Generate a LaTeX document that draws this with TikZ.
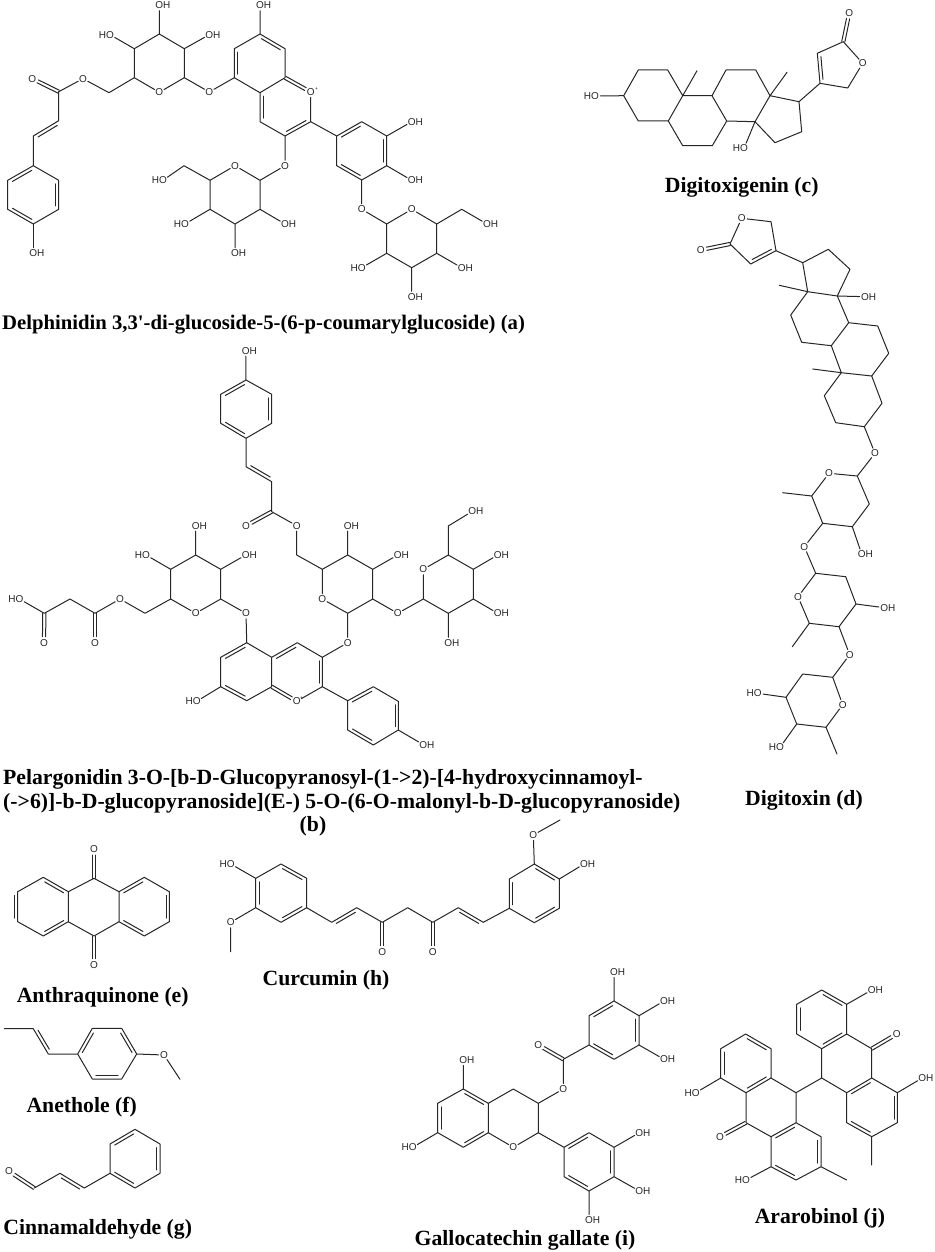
\documentclass[tikz,border=0pt]{standalone}
\usepackage{fontspec}
\setmainfont{Liberation Serif}[Ligatures=TeXOff]
\newfontfamily\atomfont{Liberation Sans}
\usetikzlibrary{calc}
\definecolor{ink}{gray}{0.15}
\tikzset{
  bond/.style={draw=ink,line width=1pt,line join=round,line cap=round},
  oat/.style={circle,minimum size=10.5pt,inner sep=0pt,draw=none},
  atomtxt/.style={inner sep=0pt,text=ink,font=\atomfont\fontsize{10}{10}\selectfont},
  chg/.style={inner sep=0pt,text=ink,font=\atomfont\fontsize{5}{5}\selectfont},
  title/.style={inner sep=0pt,text=black,font=\bfseries\fontsize{21.7}{23}\selectfont},
  titlea/.style={inner sep=0pt,text=black,font=\bfseries\fontsize{20.7}{22}\selectfont},
}
\newcommand\Vs[1]{\foreach \n/\x/\y in {#1}{\coordinate (\n) at (\x,\y);}}
\newcommand\Oat[3]{\node[oat](#1) at (#2,#3){}; \node[atomtxt](#1t) at (#2,#3){O};}
\newcommand\OH[3]{\node[oat](#1) at (#2,#3){}; \node[atomtxt](#1t) at (#2+3.6,#3){OH};}
\newcommand\HO[3]{\node[oat](#1) at (#2,#3){}; \node[atomtxt](#1t) at (#2-3.6,#3){HO};}
% inner line of a double bond, on the right-hand side going from #1 to #2
\newcommand\dbl[2]{\draw[bond] ($(#1)!0.12!(#2)!3.3pt!-90:(#2)$) -- ($(#2)!0.12!(#1)!3.3pt!90:(#1)$);}
% double bond C=O drawn as two parallel lines, from atom #1 to oxygen #2
\newcommand\dblO[2]{%
  \draw[bond] ($(#1)!1.6pt!90:(#2)$) -- ($(#2)!6pt!(#1)!1.6pt!-90:(#1)$);
  \draw[bond] ($(#1)!1.6pt!-90:(#2)$) -- ($(#2)!6pt!(#1)!1.6pt!90:(#1)$);}
\begin{document}
\begin{tikzpicture}[x=1pt,y=-1pt]
\useasboundingbox (0,0) rectangle (934,1252);

%% ---------- (a) Delphinidin glycoside
\Vs{a1/33.3/165.7,a2/58.7/180.3,a3/58.7/209.3,a4/33.3/224,a5/7.7/209.3,a6/7.7/180.3,
    a7/33.3/136,a8/58.7/120.7,a9/58.7/91.7,a10/109/92.7,
    s1/134.3/77.7,s2/134.3/48.7,s3/159.3/34,s4/184.3/48.7,s5/184.3/77.7,
    r1/234.3/77.7,r2/234.3/48.7,r3/260/34,r4/285/48.7,r5/285/77.7,r6/260/92.7,
    r7/310.7/121.7,r8/285/136,r9/260/121.7,
    t1/260/180.3,t2/210/180.3,t3/210/209.3,t4/235/224,t5/260/209.3,t6/184/165.7,
    b1/336.7/136,b2/361.7/121.7,b3/386.7/136,b4/386.7/165.7,b5/361.7/180,b6/336.7/165.7,
    u1/386.7/224,u2/436.7/224,u3/436.7/253.3,u4/411.7/267.7,u5/386.7/253.3,u6/461.7/209.3}
\OH{aO1}{33.3}{253}
\Oat{aO2}{32.3}{78.7}
\Oat{aO3}{83}{78.7}
\Oat{aO4}{159.3}{92.3}
\OH{aO5}{159.3}{5.3}
\HO{aO6}{110}{34.7}
\OH{aO7}{209.3}{34.7}
\Oat{aO8}{209.3}{92}
\OH{aO9}{260}{5.3}
\Oat{aO10}{310.7}{92}
\node[chg](aplus) at (316.7,89){+};
\Oat{aO11}{285}{165.7}
\Oat{aO12}{235}{165.7}
\HO{aO13}{163}{180.3}
\HO{aO14}{185}{224}
\OH{aO15}{235}{253}
\OH{aO16}{285}{224}
\OH{aO17}{411.7}{121.7}
\OH{aO18}{411.7}{180.3}
\Oat{aO19}{361.7}{209.3}
\Oat{aO20}{411.7}{209.3}
\HO{aO21}{361.7}{267.7}
\OH{aO22}{411.7}{296.7}
\OH{aO23}{461.7}{267.7}
\OH{aO24}{487}{224}
\draw[bond] (a1)--(a2)--(a3)--(a4)--(a5)--(a6)--(a1)--(a7)--(a8)--(a9);
\dbl{a6}{a1}\dbl{a2}{a3}\dbl{a4}{a5}\dbl{a7}{a8}
\draw[bond] (a4)--(aO1);
\dblO{a9}{aO2}
\draw[bond] (a9)--(aO3)--(a10)--(s1)--(s2)--(s3)--(s4)--(s5)--(aO4)--(s1);
\draw[bond] (s3)--(aO5) (s2)--(aO6) (s4)--(aO7) (s5)--(aO8)--(r1);
\draw[bond] (r1)--(r2)--(r3)--(r4)--(r5)--(r6)--(r1) (r6)--(r9)--(r8)--(r7)--(aO10);
\dbl{r1}{r2}\dbl{r3}{r4}\dblO{r5}{aO10}\dbl{r9}{r6}\dbl{r7}{r8}
\draw[bond] (r3)--(aO9) (r8)--(aO11)--(t1)--(t5)--(t4)--(t3)--(t2)--(aO12)--(t1);
\draw[bond] (t2)--(t6)--(aO13) (t3)--(aO14) (t4)--(aO15) (t5)--(aO16);
\draw[bond] (r7)--(b1)--(b2)--(b3)--(b4)--(b5)--(b6)--(b1);
\dbl{b1}{b2}\dbl{b3}{b4}\dbl{b5}{b6}
\draw[bond] (b3)--(aO17) (b4)--(aO18) (b5)--(aO19)--(u1)--(aO20)--(u2)--(u3)--(u4)--(u5)--(u1);
\draw[bond] (u5)--(aO21) (u4)--(aO22) (u3)--(aO23) (u2)--(u6)--(aO24);
\node[titlea,anchor=base west](La) at (2,329){Delphinidin 3,3'-di-glucoside-5-(6-p-coumarylglucoside) (a)};

%% ---------- (b) Pelargonidin glycoside
\Vs{c1/246/380,c2/271.7/394.3,c3/271.7/423.3,c4/246/438.3,c5/220.7/423.3,c6/220.7/394.3,
    c7/246/466.7,c8/271.7/481.7,c9/271.7/511.7,c10/296.7/555,
    g1/322.3/569.3,g2/347.7/555,g3/372.7/569.3,g4/372.7/599,g5/347.7/613.3,
    h1/423.3/599,h2/448.3/555,h3/473.3/569.3,h4/473.3/599,h5/448.3/613.3,h6/448.3/526,
    k1/246.7/642.7,k2/271.7/657.3,k3/297.3/642.7,k4/322.3/657.3,k5/322.3/686.7,
    k6/271.7/686.7,k7/246.7/700.7,k8/220.7/686.7,k9/220.7/657.3,
    m1/347.7/700.7,m2/373.3/686.7,m3/398.3/701.3,m4/398.3/730,m5/373.3/745,m6/347.7/730,
    n1/220.7/599,n2/220.7/569.3,n3/195.7/555,n4/170.7/569.3,n5/170.7/599,n6/145/613.3,
    n7/95/613.3,n8/70/599,n9/44.3/613.3}
\OH{bO1}{245.7}{350.7}
\Oat{bO2}{246}{525.7}
\Oat{bO3}{296.7}{525.7}
\Oat{bO4}{322.3}{599}
\OH{bO5}{347.7}{525.7}
\OH{bO6}{397.7}{555}
\Oat{bO7}{347.7}{642.7}
\Oat{bO8}{397.7}{613.3}
\Oat{bO9}{423.3}{569.3}
\OH{bO10}{472.3}{511.3}
\OH{bO11}{497.7}{555}
\OH{bO12}{497.7}{613.3}
\OH{bO13}{448.3}{642.7}
\Oat{bO14}{296.7}{701.3}
\node[chg](bplus) at (301.7,698.3){+};
\OH{bO15}{423.3}{744.7}
\HO{bO16}{196.7}{701.3}
\Oat{bO17}{246}{613.3}
\Oat{bO18}{195.7}{613.3}
\OH{bO19}{195.7}{525.7}
\OH{bO20}{245.7}{555}
\HO{bO21}{146}{555}
\Oat{bO22}{120}{599}
\Oat{bO23}{95}{642.7}
\Oat{bO24}{44}{642.7}
\HO{bO25}{19.5}{599}
\draw[bond] (c1)--(c2)--(c3)--(c4)--(c5)--(c6)--(c1) (c1)--(bO1) (c4)--(c7)--(c8)--(c9)--(bO3)--(c10)--(g1);
\dbl{c6}{c1}\dbl{c2}{c3}\dbl{c4}{c5}\dbl{c8}{c7}
\dblO{c9}{bO2}
\draw[bond] (g1)--(g2)--(g3)--(g4)--(g5)--(bO4)--(g1);
\draw[bond] (g2)--(bO5) (g3)--(bO6) (g5)--(bO7)--(k4) (g4)--(bO8)--(h1)--(bO9)--(h2)--(h3)--(h4)--(h5)--(h1);
\draw[bond] (h2)--(h6)--(bO10) (h3)--(bO11) (h4)--(bO12) (h5)--(bO13);
\draw[bond] (k1)--(k2)--(k3)--(k4)--(k5)--(bO14) (k6)--(k7)--(k8)--(k9)--(k1) (k2)--(k6);
\dbl{k9}{k1}\dbl{k2}{k3}\dbl{k4}{k5}\dbl{k7}{k8}
\dblO{k6}{bO14}
\draw[bond] (k5)--(m1)--(m2)--(m3)--(m4)--(m5)--(m6)--(m1) (m4)--(bO15) (k8)--(bO16);
\dbl{m1}{m2}\dbl{m3}{m4}\dbl{m5}{m6}
\draw[bond] (k1)--(bO17)--(n1)--(n2)--(n3)--(n4)--(n5)--(bO18)--(n1);
\draw[bond] (n3)--(bO19) (n2)--(bO20) (n4)--(bO21) (n5)--(n6)--(bO22)--(n7)--(n8)--(n9)--(bO25);
\dblO{n7}{bO23}
\dblO{n9}{bO24}
\node[title,anchor=base west](Lb1) at (3,784){Pelargonidin 3-O-[b-D-Glucopyranosyl-(1->2)-[4-hydroxycinnamoyl-};
\node[title,anchor=base west](Lb2) at (3,808){(->6)]-b-D-glucopyranoside](E-) 5-O-(6-O-malonyl-b-D-glucopyranoside)};
\node[title,anchor=base](Lb3) at (313,831){(b)};

%% ---------- (c) Digitoxigenin
\Vs{d1/623.7/95.7,d2/638.3/70,d3/667.7/70,d4/682.7/95.7,d5/668.3/121,d6/638.3/121,d7/697/70.7,
    d8/682.7/145.7,d9/712.3/145.7,d10/726.7/121,d11/712/95.7,d12/726/70,d13/755.7/70,d14/770/95.7,
    d15/755/121.7,d16/787/72.3,d17/799/101.7,d18/801.7/131.7,d19/775/142.7,
    d20/820/83.3,d21/817.3/53.3,d22/843.3/41.7,d23/847.7/88}
\HO{cO1}{595}{96}
\HO{cO2}{744}{148.3}
\Oat{cO3}{862.7}{63.3}
\Oat{cO4}{849.3}{12.7}
\draw[bond] (cO1)--(d1)--(d2)--(d3)--(d4)--(d5)--(d6)--(d1) (d4)--(d7);
\draw[bond] (d5)--(d8)--(d9)--(d10)--(d11)--(d4) (d11)--(d12)--(d13)--(d14)--(d15)--(d10);
\draw[bond] (d14)--(d16) (d14)--(d17)--(d18)--(d19)--(d15)--(cO2);
\draw[bond] (d17)--(d20)--(d21)--(d22)--(cO3)--(d23)--(d20);
\dbl{d20}{d21}
\dblO{d22}{cO4}
\node[title,anchor=base](Lc) at (741.7,193){Digitoxigenin (c)};

%% ---------- (d) Digitoxin
\Vs{e1/771/221.7,e2/776/250.7,e3/750.7/264,e4/730/244,e5/802.7/262.7,e6/828.3/249.3,e7/850/269.3,
    e8/837.3/296,e9/807.7/291.7,e10/779.3/285.3,e11/790.7/315,e12/801.7/342.3,e13/831.3/345.7,
    e14/848.7/322.7,e15/877.7/326,e16/888.7/353.3,e17/871.7/376,e18/841.3/372.7,e19/812.7/369,
    e20/824.3/395.7,e21/835.7/422.7,e22/864.3/426.7,e23/882/403.3,
    f1/857.3/476,f2/811.7/496,f3/782.7/492.7,f4/822.7/523.3,f5/852.3/526.7,f6/869.3/504,
    j1/815.7/573.3,j2/845.7/576.7,j3/856/604,j4/839/626.7,j5/809.3/623.3,j6/792.3/646.7,
    l1/832.7/677.3,l2/826/727.3,l3/796.7/724,l4/786/697.3,l5/802.7/674,l6/837/754}
\Oat{dO1}{741.7}{218.3}
\Oat{dO2}{700.7}{250}
\OH{dO3}{865}{296.7}
\Oat{dO4}{875}{453.3}
\Oat{dO5}{829}{473.3}
\OH{dO6}{861.7}{554}
\Oat{dO7}{804.3}{546.7}
\Oat{dO8}{798}{596.7}
\OH{dO9}{884.3}{607.7}
\Oat{dO10}{849.7}{654.7}
\Oat{dO11}{842.7}{704.7}
\HO{dO12}{757.7}{693.3}
\HO{dO13}{780}{747.3}
\draw[bond] (dO1)--(e1)--(e2)--(e3)--(e4)--(dO1);
\dbl{e2}{e3}
\dblO{e4}{dO2}
\draw[bond] (e2)--(e5)--(e6)--(e7)--(e8)--(e9)--(e5) (e9)--(e10) (e8)--(dO3);
\draw[bond] (e9)--(e11)--(e12)--(e13)--(e14)--(e8) (e14)--(e15)--(e16)--(e17)--(e18)--(e13) (e18)--(e19);
\draw[bond] (e18)--(e20)--(e21)--(e22)--(e23)--(e17) (e22)--(dO4)--(f1)--(dO5)--(f2)--(f4)--(f5)--(f6)--(f1);
\draw[bond] (f2)--(f3) (f5)--(dO6) (f4)--(dO7)--(j1)--(j2)--(j3)--(j4)--(j5)--(dO8)--(j1);
\draw[bond] (j5)--(j6) (j3)--(dO9) (j4)--(dO10)--(l1)--(dO11)--(l2)--(l3)--(l4)--(l5)--(l1);
\draw[bond] (l2)--(l6) (l4)--(dO12) (l3)--(dO13);
\node[title,anchor=base](Ld) at (804,805){Digitoxin (d)};

%% ---------- (e) Anthraquinone
\Vs{p1/94/878.3,p2/119/891.7,p3/119/921.7,p4/94/936,p5/68.3/921.7,p6/68.3/891.7,
    p7/43.3/877.3,p8/17.7/891.7,p9/17.7/921.7,p10/43.3/936,
    p11/144.3/877.3,p12/169.3/891.7,p13/169.3/921.7,p14/144.3/936}
\Oat{eO1}{94}{849}
\Oat{eO2}{94}{964.7}
\draw[bond] (p1)--(p2)--(p3)--(p4)--(p5)--(p6)--(p1);
\draw[bond] (p6)--(p7)--(p8)--(p9)--(p10)--(p5) (p2)--(p11)--(p12)--(p13)--(p14)--(p3);
\dbl{p7}{p6}\dbl{p8}{p9}\dbl{p5}{p10}
\dbl{p2}{p11}\dbl{p12}{p13}\dbl{p14}{p3}
\dblO{p1}{eO1}
\dblO{p4}{eO2}
\node[title,anchor=base](Le) at (102.7,1002){Anthraquinone (e)};

%% ---------- (f) Anethole
\Vs{q1/4.3/1028.7,q2/33.3/1028.7,q3/48.3/1054,q4/77.7/1054,q5/92.3/1028.3,q6/121.7/1028.3,
    q7/136.7/1054,q8/121.7/1079,q9/92.3/1079,q10/180/1079.3}
\Oat{fO1}{164}{1055}
\draw[bond] (q1)--(q2)--(q3)--(q4)--(q5)--(q6)--(q7)--(q8)--(q9)--(q4) (q7)--(fO1)--(q10);
\dbl{q3}{q2}\dbl{q4}{q5}\dbl{q6}{q7}\dbl{q8}{q9}
\node[title,anchor=base](Lf) at (81.7,1112){Anethole (f)};

%% ---------- (g) Cinnamaldehyde
\Vs{w1/34.3/1188,w2/60/1173.3,w3/84.3/1188,w4/110/1173.3,w5/135/1188,w6/160/1173.3,
    w7/160/1144,w8/135/1129.3,w9/110/1144}
\Oat{gO1}{9}{1171.3}
\draw[bond] (w1)--(w2)--(w3)--(w4)--(w5)--(w6)--(w7)--(w8)--(w9)--(w4);
\dblO{w1}{gO1}
\dbl{w2}{w3}\dbl{w5}{w4}\dbl{w7}{w6}\dbl{w9}{w8}
\node[title,anchor=base](Lg) at (97.7,1234){Cinnamaldehyde (g)};

%% ---------- (h) Curcumin
\Vs{x1/255.7/878.3,x2/281/864,x3/306.7/878.3,x4/306.7/907.7,x5/281/922.3,x6/255.7/907.7,
    x7/230.7/951.7,x8/331.7/922.3,x9/356.7/907.7,x10/382.3/922.3,x11/407.7/907.7,x12/432.7/922.3,
    x13/458.3/907.7,x14/483.3/922.3,x15/509.3/908.3,x16/534.3/922.7,x17/559.3/908.3,x18/559.3/879,
    x19/534.3/864,x20/509.3/879,x21/560/820}
\HO{hO1}{230.7}{864}
\Oat{hO2}{230.7}{922.3}
\Oat{hO3}{382.3}{951.7}
\Oat{hO4}{432.7}{951.7}
\Oat{hO5}{533.3}{835}
\OH{hO6}{584}{864}
\draw[bond] (hO1)--(x1)--(x2)--(x3)--(x4)--(x5)--(x6)--(x1) (x6)--(hO2)--(x7);
\dbl{x6}{x1}\dbl{x2}{x3}\dbl{x4}{x5}
\draw[bond] (x4)--(x8)--(x9)--(x10)--(x11)--(x12)--(x13)--(x14)--(x15)--(x16)--(x17)--(x18)--(x19)--(x20)--(x15);
\dbl{x8}{x9}\dbl{x13}{x14}
\dblO{x10}{hO3}
\dblO{x12}{hO4}
\dbl{x15}{x20}\dbl{x19}{x18}\dbl{x17}{x16}
\draw[bond] (x19)--(hO5)--(x21) (x18)--(hO6);
\node[title,anchor=base](Lh) at (326,985.5){Curcumin (h)};

%% ---------- (i) Gallocatechin gallate
\Vs{y1/463.3/1089,y2/488.3/1103.3,y3/488.3/1132.7,y4/463.3/1147.3,y5/437.7/1132.7,y6/437.7/1103.3,
    y7/538.3/1132.7,y8/538.3/1103.3,y9/513.3/1089,y10/563.3/1059.3,
    v1/589/1045,v2/589/1015.7,v3/614/1001,v4/639/1015.7,v5/639/1045,v6/614/1059.3,
    z1/564/1147.3,z2/589/1132.7,z3/614/1147.3,z4/614/1176.7,z5/589/1191,z6/564/1176.7}
\OH{iO1}{463.3}{1060}
\HO{iO2}{412.7}{1147.3}
\Oat{iO3}{513.3}{1147.3}
\Oat{iO4}{563.3}{1089}
\Oat{iO5}{538.3}{1045}
\OH{iO6}{614}{972}
\OH{iO7}{664}{1001}
\OH{iO8}{664}{1059.3}
\OH{iO9}{639.3}{1132.7}
\OH{iO10}{639.3}{1191}
\OH{iO11}{589}{1220}
\draw[bond] (y1)--(y2)--(y3)--(y4)--(y5)--(y6)--(y1) (y1)--(iO1) (y5)--(iO2);
\dbl{y1}{y2}\dbl{y3}{y4}\dbl{y5}{y6}
\draw[bond] (y2)--(y9)--(y8)--(y7)--(iO3)--(y3) (y8)--(iO4)--(y10)--(v1)--(v2)--(v3)--(v4)--(v5)--(v6)--(v1);
\dblO{y10}{iO5}
\dbl{v2}{v3}\dbl{v4}{v5}\dbl{v6}{v1}
\draw[bond] (v3)--(iO6) (v4)--(iO7) (v5)--(iO8);
\draw[bond] (y7)--(z1)--(z2)--(z3)--(z4)--(z5)--(z6)--(z1) (z3)--(iO9) (z4)--(iO10) (z5)--(iO11);
\dbl{z1}{z2}\dbl{z3}{z4}\dbl{z5}{z6}
\node[title,anchor=base](Li) at (525,1245.5){Gallocatechin gallate (i)};

%% ---------- (j) Ararobinol
\Vs{aa1/720.7/1048.7,aa2/745.7/1034,aa3/771/1048.7,aa4/771/1078,aa5/746/1092.7,aa6/720.7/1078,
    aa7/796/1092.7,aa8/796/1122.7,aa9/771/1136.7,aa10/746/1122.7,aa11/821/1136.7,aa12/821/1166.7,
    aa13/796/1180,aa14/771/1166.7,aa15/846.7/1180,
    bb1/821.7/1078,bb2/821.7/1048.7,bb3/796.7/1034,bb4/796.7/1004.3,bb5/821.7/990,bb6/846.7/1004.3,
    bb7/846.7/1034,bb8/871.7/1048.7,bb9/871.7/1078,bb10/846.7/1092.7,bb11/897.3/1092.7,bb12/897.3/1122.7,
    bb13/871.7/1136.7,bb14/846.7/1122.7,bb15/871.7/1165}
\HO{jO1}{695.7}{1092.7}
\Oat{jO2}{720}{1136.7}
\HO{jO3}{746}{1180}
\OH{jO4}{871.7}{990}
\Oat{jO5}{896.7}{1034}
\OH{jO6}{922.3}{1078}
\draw[bond] (aa1)--(aa2)--(aa3)--(aa4)--(aa5)--(aa6)--(aa1) (aa6)--(jO1);
\dbl{aa6}{aa1}\dbl{aa2}{aa3}\dbl{aa4}{aa5}
\draw[bond] (aa4)--(aa7)--(aa8)--(aa9)--(aa10)--(aa5) (aa8)--(aa11)--(aa12)--(aa13)--(aa14)--(aa9) (aa14)--(jO3) (aa12)--(aa15);
\dblO{aa10}{jO2}
\dbl{aa9}{aa8}\dbl{aa11}{aa12}\dbl{aa13}{aa14}
\draw[bond] (aa7)--(bb1)--(bb2)--(bb3)--(bb4)--(bb5)--(bb6)--(bb7)--(bb2) (bb7)--(bb8)--(bb9)--(bb10)--(bb1) (bb6)--(jO4);
\dbl{bb3}{bb4}\dbl{bb5}{bb6}\dbl{bb7}{bb2}
\dblO{bb8}{jO5}
\draw[bond] (bb9)--(bb11)--(bb12)--(bb13)--(bb14)--(bb10) (bb11)--(jO6) (bb13)--(bb15);
\dbl{bb10}{bb9}\dbl{bb11}{bb12}\dbl{bb13}{bb14}
\node[title,anchor=base](Lj) at (820,1223){Ararobinol (j)};
\end{tikzpicture}
\end{document}
